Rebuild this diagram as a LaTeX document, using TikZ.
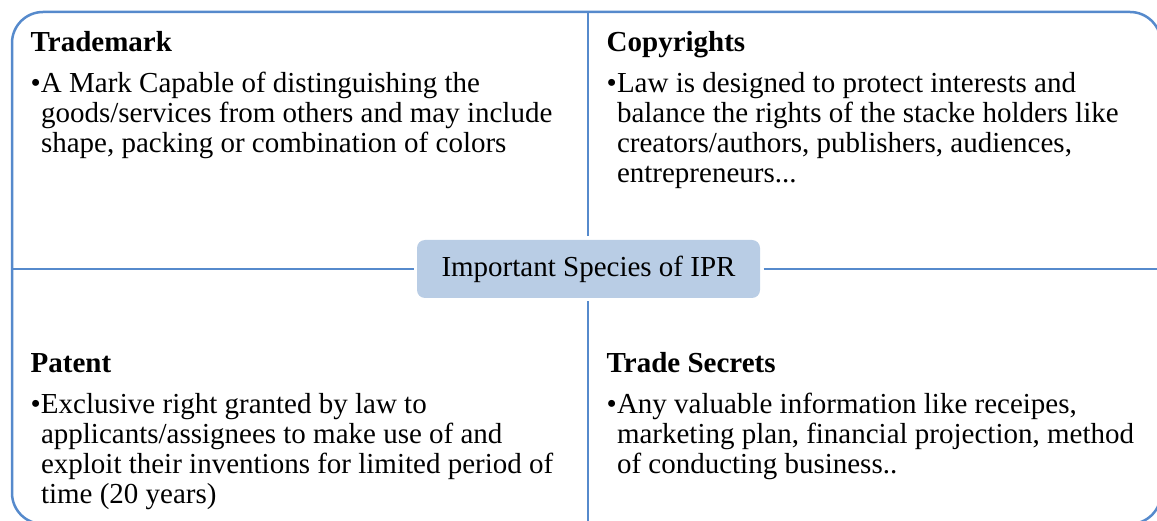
\documentclass[tikz,border=0pt]{standalone}
\usepackage{fontspec}
\setmainfont{Liberation Serif}
\definecolor{iprblue}{RGB}{86,138,204}
\definecolor{hubfill}{RGB}{185,205,229}
\tikzset{iprline/.style={draw=iprblue, line width=2.5pt},
  hub/.style={fill=hubfill, rounded corners=8pt, minimum width=343pt,
    minimum height=58pt, inner sep=0pt, outer sep=3.5pt,
    font=\fontsize{29}{31}\selectfont},
  quad/.style={anchor=base west, inner sep=0pt,
    font=\fontsize{29}{30}\selectfont}}
\newcommand{\bul}{\makebox[10.3pt][l]{\textbullet}}
\newcommand{\head}[1]{\multicolumn{2}{@{}l@{}}{\textbf{#1}}\\[11pt]}

\begin{document}
\begin{tikzpicture}[x=1pt, y=1pt]
      \useasboundingbox (0, 0) rectangle (1157, -521);
      \draw[iprline, rounded corners=31pt] (12, -12) rectangle (1161, -524);

      \node[hub] (ipr) at (588.5, -269) {Important Species of IPR};

      \coordinate (top) at (588, -12);
      \coordinate (bot) at (588, -524);
      \coordinate (lft) at (12, -269);
      \coordinate (rgt) at (1161, -269);

      \draw[iprline] (top) -- (top |- ipr.north);
      \draw[iprline] (bot |- ipr.south) -- (bot);
      \draw[iprline] (lft) -- (ipr.west);
      \draw[iprline] (ipr.east) -- (rgt);

      \node[quad] (tm) at (30.5, -52)
      {\begin{tabular}[t]{@{}l@{}l@{}}
       \head{Trademark}
       \bul & A Mark Capable of distinguishing the\\
       & goods/services from others and may include\\
       & shape, packing or combination of colors
       \end{tabular}};
      \node[quad] (cr) at (606.5, -52)
      {\begin{tabular}[t]{@{}l@{}l@{}}
       \head{Copyrights}
       \bul & Law is designed to protect interests and\\
       & balance the rights of the stacke holders like\\
       & creators/authors, publishers, audiences,\\
       & entrepreneurs...
       \end{tabular}};
      \node[quad] (pt) at (30.5, -373)
      {\begin{tabular}[t]{@{}l@{}l@{}}
       \head{Patent}
       \bul & Exclusive right granted by law to\\
       & applicants/assignees to make use of and\\
       & exploit their inventions for limited period of\\
       & time (20 years)
       \end{tabular}};
      \node[quad] (ts) at (606.5, -373)
      {\begin{tabular}[t]{@{}l@{}l@{}}
       \head{Trade Secrets}
       \bul & Any valuable information like receipes,\\
       & marketing plan, financial projection, method\\
       & of conducting business..
       \end{tabular}};
    \end{tikzpicture}
\end{document}
